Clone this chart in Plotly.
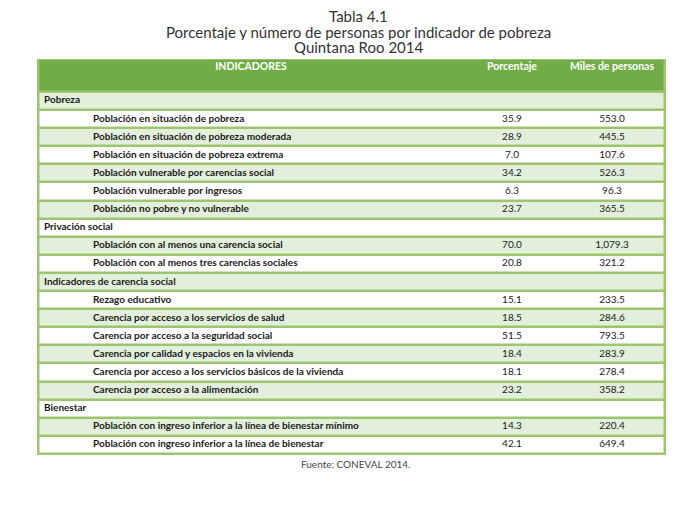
import plotly.graph_objects as go

# Data
grupos = ["Pobreza", "Privación social", "Indicadores de carencia social", "Bienestar"]
indicadores = [
    ["Población en situación de pobreza",
     "Población en situación de pobreza moderada",
     "Población en situación de pobreza extrema",
     "Población vulnerable por carencias social",
     "Población vulnerable por ingresos",
     "Población no pobre y no vulnerable"],
    ["Población con al menos una carencia social",
     "Población con al menos tres carencias sociales"],
    ["Rezago educativo",
     "Carencia por acceso a los servicios de salud",
     "Carencia por acceso a la seguridad social",
     "Carencia por calidad y espacios en la vivienda",
     "Carencia por acceso a los servicios básicos de la vivienda",
     "Carencia por acceso a la alimentación"],
    ["Población con ingreso inferior a la línea de bienestar mínimo",
     "Población con ingreso inferior a la línea de bienestar"],
]
porcentaje = [[35.9, 28.9, 7.0, 34.2, 6.3, 23.7], [70.0, 20.8],
              [15.1, 18.5, 51.5, 18.4, 18.1, 23.2], [14.3, 42.1]]
miles = [[553.0, 445.5, 107.6, 526.3, 96.3, 365.5], [1079.3, 321.2],
         [233.5, 284.6, 793.5, 283.9, 278.4, 358.2], [220.4, 649.4]]
encabezados = ["INDICADORES", "Porcentaje", "Miles de personas"]

HEADER_GREEN = "#70AD47"
LIGHT_GREEN = "#E2EFDA"
BORDER = "#9DC46F"
FONT = "Lato"

# layout (pixel units of the table box)
PAGE_OFF = 8             # body margin of the html page
W, H = 629, 396          # table box size
HEAD_H = 33
BORDER_W = 2.5
COL_X = {"grupo": 7, "ind": 56, "pct": 475, "mil": 575, "head_ind": 214}

# flatten rows: group title followed by its indicators
rows = []  # (label, is_group, pct, mil)
for g, labs, pcts, mils in zip(grupos, indicadores, porcentaje, miles):
    rows.append((g, True, None, None))
    for lab, p, m in zip(labs, pcts, mils):
        rows.append((lab, False, p, m))

n = len(rows)
row_h = (H - HEAD_H) / n
edges = [0, HEAD_H] + [HEAD_H + row_h * (i + 1) for i in range(n)]
centers = [(edges[i] + edges[i + 1]) / 2 for i in range(n + 1)]

# 2 = header, 1 = light green, 0 = white
z = [[2]] + [[1 if i % 2 == 0 else 0] for i in range(n)]

fig = go.Figure()
fig.add_trace(go.Heatmap(
    z=z, x=[BORDER_W, W - BORDER_W], y=edges,
    colorscale=[[0, "white"], [0.5, LIGHT_GREEN], [1, HEADER_GREEN]],
    zmin=0, zmax=2, showscale=False, ygap=BORDER_W, hoverinfo="skip",
))

# header texts
fig.add_trace(go.Scatter(
    x=[COL_X["head_ind"], COL_X["pct"], COL_X["mil"]], y=[8] * 3,
    text=[f"<b>{h}</b>" for h in encabezados], mode="text",
    textposition="middle center", hoverinfo="skip",
    textfont=dict(family=FONT, size=10.5, color="white"),
))

# indicator labels
fig.add_trace(go.Scatter(
    x=[COL_X["grupo"] if r[1] else COL_X["ind"] for r in rows],
    y=centers[1:], text=[f"<b>{r[0]}</b>" for r in rows], mode="text",
    textposition="middle right", hoverinfo="skip",
    textfont=dict(family=FONT, size=10, color="#1a1a1a"),
))

# values
vals = [(c, r) for c, r in zip(centers[1:], rows) if not r[1]]
fig.add_trace(go.Scatter(
    x=[COL_X["pct"]] * len(vals), y=[c for c, _ in vals],
    text=[f"{r[2]:,.1f}" for _, r in vals], mode="text",
    textposition="middle center", hoverinfo="skip",
    textfont=dict(family=FONT, size=10, color="#1a1a1a"),
))
fig.add_trace(go.Scatter(
    x=[COL_X["mil"]] * len(vals), y=[c for c, _ in vals],
    text=[f"{r[3]:,.1f}" for _, r in vals], mode="text",
    textposition="middle center", hoverinfo="skip",
    textfont=dict(family=FONT, size=10, color="#1a1a1a"),
))

left, top = 37 - PAGE_OFF, 59 - PAGE_OFF
bottom = 517 - top - H


def py(p):
    # pixel y in picture -> paper y
    return (517 - bottom - (p - PAGE_OFF)) / H


titles = ["Tabla 4.1", "Porcentaje y número de personas por indicador de pobreza",
          "Quintana Roo 2014"]
ann = [dict(text=t, x=(358 - 37) / W, y=py(yy), xref="paper", yref="paper",
            yanchor="middle", showarrow=False, height=16, valign="middle",
            font=dict(family=FONT, size=15, color="#333333"))
       for t, yy in zip(titles, [16, 31.5, 47])]
ann.append(dict(text="Fuente: CONEVAL 2014.", x=(355 - 37) / W, xref="paper", y=py(464),
                yref="paper", yanchor="middle", showarrow=False,
                font=dict(family=FONT, size=10, color="#444444")))

fig.update_layout(
    width=690, height=517,
    margin=dict(l=left, r=690 - left - W, t=top, b=bottom),
    paper_bgcolor="white", plot_bgcolor=BORDER,
    showlegend=False,
    xaxis=dict(range=[0, W], visible=False, fixedrange=True),
    yaxis=dict(range=[H + 1, 0], visible=False, fixedrange=True),
    annotations=ann,
)

fig.write_html("out.html")
